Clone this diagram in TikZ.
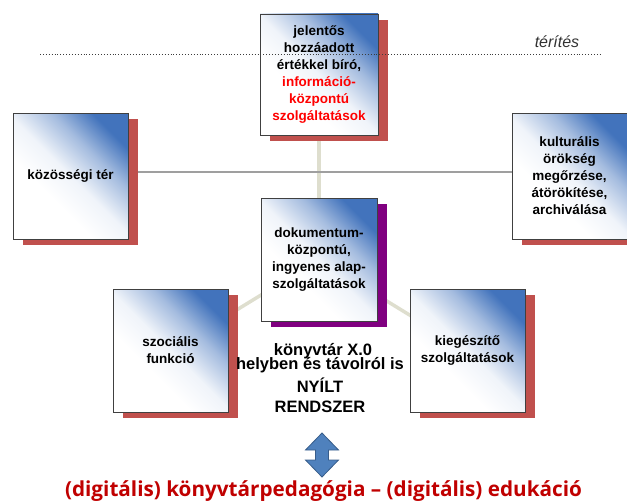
\documentclass[tikz,border=0pt]{standalone}
\usepackage{fontspec}
\setmainfont{Liberation Sans}
\newfontfamily\botfont{Open Sans}
\usetikzlibrary{shadows,backgrounds}
\definecolor{shred}{RGB}{192,80,77}
\definecolor{shpurple}{RGB}{128,0,128}
\definecolor{boxblue}{RGB}{66,115,188}
\definecolor{darkred}{RGB}{192,0,0}
\definecolor{linkc}{RGB}{222,222,206}
\definecolor{arrowblue}{RGB}{79,129,189}
\definecolor{arrowedge}{RGB}{56,93,138}
\pgfdeclarehorizontalshading{boxshade}{100bp}{color(0bp)=(white); color(38bp)=(white);
  color(50bp)=(white!92!boxblue); color(63bp)=(white!52!boxblue); color(75bp)=(boxblue); color(100bp)=(boxblue)}
\tikzset{
  box/.style={draw={rgb,255:red,64;green,64;blue,64}, line width=0.9pt, inner sep=0pt,
    minimum width=115pt, minimum height=123pt, align=center,
    font=\fontsize{13.5}{17}\selectfont\bfseries,
    shading=boxshade, shading angle=45},
  redshadow/.style={drop shadow={shadow xshift=10pt, shadow yshift=-6pt, fill=shred, opacity=1}},
  purpleshadow/.style={drop shadow={shadow xshift=10pt, shadow yshift=-6pt, fill=shpurple, opacity=1}},
  link/.style={draw=linkc, line width=3.5pt},
  hline/.style={draw=gray!75, line width=1.2pt},
  bigtxt/.style={font=\fontsize{16.5}{18}\selectfont\bfseries, inner sep=0pt},
}
\begin{document}
\begin{tikzpicture}[x=1pt,y=-1pt]
\useasboundingbox (0,0) rectangle (627,503);
% boxes
\node[box, redshadow, minimum width=118pt, minimum height=121pt] (top) at (319,74.5)
  {jelentős\\hozzáadott\\értékkel bíró,\\\textcolor{red}{információ-}\\\textcolor{red}{központú}\\\textcolor{red}{szolgáltatások}};
\node[box, redshadow, minimum height=126pt] (left) at (70.5,176) {közösségi tér};
\node[box, redshadow, minimum height=126pt] (right) at (569.5,176)
  {kulturális\\örökség\\megőrzése,\\átörökítése,\\archiválása};
\node[box, purpleshadow, minimum width=116pt] (center) at (319,259.5)
  {dokumentum-\\központú,\\ingyenes alap-\\szolgáltatások};
\node[box, redshadow] (szoc) at (170.5,350.5) {szociális\\funkció};
\node[box, redshadow] (kieg) at (467.5,350.5) {kiegészítő\\szolgáltatások};
% connectors behind
\begin{scope}[on background layer]
\draw[link] (top.center) -- (center.center);
\draw[link] (center.center) -- (szoc.center);
\draw[link] (center.center) -- (kieg.center);
\draw[hline] ([yshift=4pt]left.center) -- ([yshift=4pt]right.center);
\end{scope}
% dotted line
\coordinate (dl) at (40,54);
\coordinate (dr) at (600,54);
\draw[dotted, line width=0.9pt, draw={rgb,255:red,60;green,60;blue,60}] (dl) -- (dr);
\node[font=\fontsize{16}{18}\selectfont\itshape, text={rgb,255:red,50;green,50;blue,50}, inner sep=0pt] (terites) at (557,42) {térítés};
% centre texts
\node[bigtxt] (kx) at (323,351.5) {könyvtár X.0};
\node[bigtxt] (hely) at (320,365.5) {helyben és távolról is};
\node[bigtxt] (nyilt) at (320,385) {NYÍLT};
\node[bigtxt] (rend) at (320,407) {RENDSZER};
% double arrow
\filldraw[fill=arrowblue, draw=arrowedge, line width=0.8pt, line join=miter]
  (322,433) -- (338.5,450) -- (328.5,450) -- (328.5,460) -- (338.5,460) -- (322,477)
  -- (305.5,460) -- (315.5,460) -- (315.5,450) -- (305.5,450) -- cycle;
% bottom text
\node[font=\botfont\fontsize{20.7}{22}\selectfont\bfseries, text=darkred, inner sep=0pt] (bottom) at (323.5,491)
  {(digitális) könyvtárpedagógia – (digitális) edukáció};
\end{tikzpicture}
\end{document}
